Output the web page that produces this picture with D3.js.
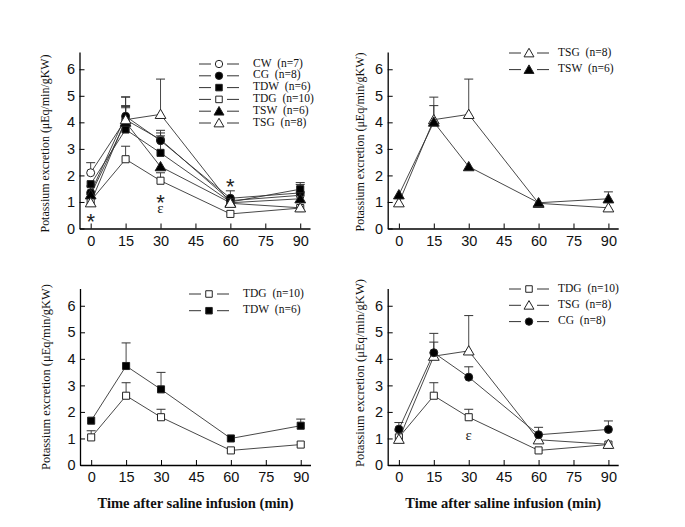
<!DOCTYPE html>
<html><head><meta charset="utf-8">
<script src="https://cdn.jsdelivr.net/npm/d3@7"></script>
<style>body{margin:0;background:#fff;} svg{display:block;}</style>
</head><body>
<svg id="chart" width="685" height="527"></svg>
<script>
// ---- data ----
const times = [0, 15, 30, 60, 90];
const xTicks = [0, 15, 30, 45, 60, 75, 90];
const yTicks = [0, 1, 2, 3, 4, 5, 6];
const CW = [2.1, 4.1, 3.35, 1.05, 1.25];
const CW_err = [0.38, 0.45, 0.25, 0, 0];
const CG = [1.35, 4.23, 3.31, 1.14, 1.34];
const CG_err = [0.25, 0.73, 0.39, 0.28, 0.32];
const TDW = [1.67, 3.73, 2.85, 1.0, 1.48];
const TDW_err = [0, 0.87, 0.64, 0, 0.25];
const TDG = [1.04, 2.61, 1.8, 0.55, 0.77];
const TDG_err = [0.25, 0.49, 0.3, 0, 0];
const TSW = [1.27, 4.01, 2.33, 0.97, 1.12];
const TSW_err = [0, 0.94, 0, 0, 0.26];
const TSG = [0.97, 4.1, 4.3, 0.95, 0.78];
const TSG_err = [0, 0.53, 1.33, 0, 0];
const seriesNames = ["CW", "CG", "TDW", "TDG", "TSW", "TSG"];
const seriesN = [7, 8, 6, 10, 6, 8];

const series = {
  CW:  {v: CW,  e: CW_err,  sym: d3.symbolCircle,   fill: "#fff"},
  CG:  {v: CG,  e: CG_err,  sym: d3.symbolCircle,   fill: "#000"},
  TDW: {v: TDW, e: TDW_err, sym: d3.symbolSquare,   fill: "#000"},
  TDG: {v: TDG, e: TDG_err, sym: d3.symbolSquare,   fill: "#fff"},
  TSW: {v: TSW, e: TSW_err, sym: d3.symbolTriangle, fill: "#000"},
  TSG: {v: TSG, e: TSG_err, sym: d3.symbolTriangle, fill: "#fff"}
};
seriesNames.forEach((n, i) => series[n].n = seriesN[i]);
const symSize = {};
symSize[d3.symbolCircle] = 72; symSize[d3.symbolSquare] = 88; symSize[d3.symbolTriangle] = 50;

// ---- layout ----
const W = 230.5, Hsc = 26.54;
const panels = [
  {left: 79.5, bottom: 228.5, names: ["CW","CG","TDW","TDG","TSW","TSG"],
   leg: {x: 219, y: 64, dy: 11.8, tx: 253}, ylab: {x: 45.7, y: 143.5, len: 178},
   notes: [{t: "*", x: 0, py: 216.5}, {t: "*", x: 30, py: 198}, {t: "ε", x: 30, py: 209.5}, {t: "*", x: 60, py: 181.5}]},
  {left: 387.7, bottom: 228.5, names: ["TSG","TSW"],
   leg: {x: 529, y: 53, dy: 16.6, tx: 558}, ylab: {x: 361, y: 142, len: 179}, notes: []},
  {left: 80, bottom: 465, names: ["TDG","TDW"],
   leg: {x: 209, y: 294, dy: 16.7, tx: 243}, ylab: {x: 46.7, y: 377, len: 186},
   notes: [], xtitle: true},
  {left: 387.7, bottom: 465, names: ["TDG","TSG","CG"],
   leg: {x: 529, y: 289, dy: 16.3, tx: 558}, ylab: {x: 361, y: 373, len: 188},
   notes: [{t: "ε", x: 30, py: 436.5}], xtitle: true}
];

const svg = d3.select("#chart");

panels.forEach(p => {
  const x = d3.scaleLinear().domain([-4.8, 94.2]).range([p.left, p.left + W]);
  const y = d3.scaleLinear().domain([0, 6.65]).range([p.bottom, p.bottom - 6.65 * Hsc]);
  const g = svg.append("g");

  // axes
  const ax = g.append("g").attr("transform", `translate(0,${p.bottom})`)
    .call(d3.axisBottom(x).tickValues(xTicks).tickFormat(d3.format("d")).tickSize(-5).tickPadding(7).tickSizeOuter(0));
  const ay = g.append("g").attr("transform", `translate(${p.left},0)`)
    .call(d3.axisLeft(y).tickValues(yTicks).tickFormat(d3.format("d")).tickSize(-5).tickPadding(4.5).tickSizeOuter(0));
  [ax, ay].forEach(a => {
    a.select(".domain").attr("stroke", "#000").attr("stroke-width", 1.3);
    a.selectAll(".tick line").attr("stroke", "#000").attr("stroke-width", 1);
    a.selectAll(".tick text").attr("font-family", "Liberation Sans, Arial, sans-serif")
      .attr("font-size", 14.5).attr("fill", "#111");
  });

  // y label
  g.append("text")
    .attr("transform", `translate(${p.ylab.x},${p.ylab.y}) rotate(-90)`)
    .attr("text-anchor", "middle").attr("dominant-baseline", "middle")
    .attr("font-family", "Liberation Serif, Times New Roman, serif").attr("font-size", 12.5)
    .attr("textLength", p.ylab.len).attr("lengthAdjust", "spacingAndGlyphs")
    .attr("fill", "#111")
    .text("Potassium excretion (μEq/min/gKW)");

  if (p.xtitle) {
    g.append("text").attr("x", p.left + 115.5).attr("y", 508)
      .attr("text-anchor", "middle")
      .attr("font-family", "Liberation Serif, Times New Roman, serif").attr("font-weight", "bold")
      .attr("font-size", 15.5).attr("textLength", 196).attr("lengthAdjust", "spacingAndGlyphs")
      .attr("fill", "#111")
      .text("Time after saline infusion (min)");
  }

  const line = d3.line().x((d, i) => x(times[i])).y(d => y(d));

  // lines
  p.names.forEach(n => {
    g.append("path").datum(series[n].v).attr("d", line)
      .attr("fill", "none").attr("stroke", "#333").attr("stroke-width", 0.9);
  });
  // error bars
  p.names.forEach(n => {
    const s = series[n];
    s.v.forEach((v, i) => {
      const e = s.e[i];
      if (!e) return;
      const cx = x(times[i]);
      g.append("line").attr("x1", cx).attr("x2", cx).attr("y1", y(v)).attr("y2", y(v + e))
        .attr("stroke", "#333").attr("stroke-width", 0.9);
      g.append("line").attr("x1", cx - 4.5).attr("x2", cx + 4.5).attr("y1", y(v + e)).attr("y2", y(v + e))
        .attr("stroke", "#333").attr("stroke-width", 1);
    });
  });
  // markers
  p.names.forEach(n => {
    const s = series[n];
    const sym = d3.symbol().type(s.sym).size(symSize[s.sym]);
    s.v.forEach((v, i) => {
      g.append("path").attr("d", sym())
        .attr("transform", `translate(${x(times[i])},${y(v) + (s.sym === d3.symbolTriangle ? 1 : 0)})`)
        .attr("fill", s.fill).attr("stroke", "#222").attr("stroke-width", 1);
    });
  });

  // annotations (py = pixel centre of the glyph)
  p.notes.forEach(a => {
    const star = a.t === "*";
    g.append("text").attr("x", x(a.x)).attr("y", a.py)
      .attr("text-anchor", "middle")
      .attr("font-family", star ? "Liberation Sans, Arial, sans-serif" : "Liberation Serif, Times New Roman, serif")
      .attr("font-size", star ? 22 : 15).attr("fill", "#222")
      .attr("dy", star ? "0.55em" : "0.23em")
      .text(a.t);
  });

  // legend
  p.names.forEach((n, i) => {
    const s = series[n];
    const ly = p.leg.y + i * p.leg.dy;
    g.append("line").attr("x1", p.leg.x - 20).attr("x2", p.leg.x - 8).attr("y1", ly).attr("y2", ly)
      .attr("stroke", "#333").attr("stroke-width", 1);
    g.append("line").attr("x1", p.leg.x + 8).attr("x2", p.leg.x + 20).attr("y1", ly).attr("y2", ly)
      .attr("stroke", "#333").attr("stroke-width", 1);
    g.append("path").attr("d", d3.symbol().type(s.sym).size(symSize[s.sym] * 0.85)())
      .attr("transform", `translate(${p.leg.x},${ly + (s.sym === d3.symbolTriangle ? 1 : 0)})`)
      .attr("fill", s.fill).attr("stroke", "#222").attr("stroke-width", 1);
    g.append("text").attr("x", p.leg.tx).attr("y", ly).attr("dominant-baseline", "middle")
      .attr("font-family", "Liberation Serif, Times New Roman, serif").attr("font-size", 11.5)
      .attr("fill", "#111").attr("word-spacing", 3)
      .text(`${n} (n=${s.n})`);
  });
});
</script>
</body></html>
